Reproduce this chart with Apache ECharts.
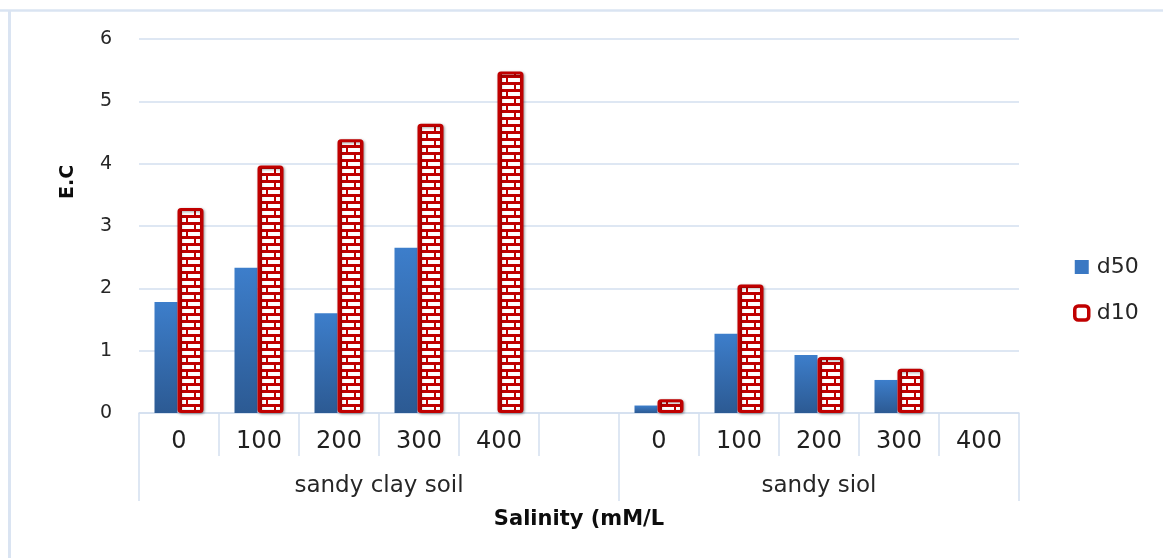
<!DOCTYPE html>
<html>
<head>
<meta charset="utf-8">
<script src="https://cdn.jsdelivr.net/npm/echarts@6/dist/echarts.min.js"></script>
<style>
html,body{margin:0;padding:0;background:#fff;}
#chart{width:1163px;height:558px;}
</style>
</head>
<body>
<div id="chart"></div>
<script>
// ---- data ----
const categories = ['0', '100', '200', '300', '400', '', '0', '100', '200', '300', '400'];
const d50 = [1.78, 2.33, 1.60, 2.65, null, null, 0.12, 1.27, 0.93, 0.53, null];
const d10 = [3.29, 3.97, 4.39, 4.64, 5.48, null, 0.22, 2.06, 0.90, 0.71, null];
const groups = ['sandy clay soil', 'sandy siol'];
const groupSizes = [6, 5];
const seriesNames = ['d50', 'd10'];
const yTicks = [0, 1, 2, 3, 4, 5, 6];

// group boundaries / centres in category units
const groupEdges = [0];
groupSizes.forEach(n => groupEdges.push(groupEdges[groupEdges.length - 1] + n));
const groupCenters = groupSizes.map((n, i) => groupEdges[i] + n / 2);

// brick pattern tile
function brickTile() {
  const c = document.createElement('canvas');
  c.width = 80; c.height = 14;
  const g = c.getContext('2d');
  g.fillStyle = '#C00000';
  g.fillRect(0, 0, 80, 14);
  g.fillStyle = '#ffffff';
  g.fillRect(22, 1, 12, 4);
  g.fillRect(36, 1, 4, 4);
  g.fillRect(22, 8, 4, 4);
  g.fillRect(28, 8, 12, 4);
  return c;
}

const chart = echarts.init(document.getElementById('chart'), null, {renderer: 'canvas'});
const font = 'DejaVu Sans';
const lineCol = '#D3DFEF';

const option = {
  animation: false,
  backgroundColor: '#ffffff',
  textStyle: {fontFamily: font},
  grid: {left: 139, right: 144, top: 39, bottom: 145, containLabel: false},
  legend: {
    orient: 'vertical',
    left: 1073,
    top: 256,
    padding: 0,
    itemWidth: 14,
    itemHeight: 14,
    itemGap: 24,
    textStyle: {fontFamily: font, fontSize: 22, color: '#262626', padding: [0, 0, 0, 3]},
    data: [
      {name: seriesNames[0], icon: 'rect', itemStyle: {color: '#3A78C3', borderWidth: 0}},
      {name: seriesNames[1], icon: 'roundRect', itemStyle: {color: '#ffffff', borderColor: '#C00000', borderWidth: 3.5}}
    ]
  },
  xAxis: [
    {
      type: 'category',
      data: categories,
      position: 'bottom',
      axisLine: {show: true, lineStyle: {color: lineCol, width: 1.5}},
      axisTick: {show: true, length: 43, lineStyle: {color: lineCol, width: 1.5}, interval: 0},
      axisLabel: {interval: 0, margin: 17, fontFamily: font, fontSize: 24, color: '#1f1f1f'},
      splitLine: {show: false}
    },
    {
      type: 'value',
      min: 0,
      max: categories.length,
      position: 'bottom',
      offset: 43,
      axisLine: {show: false},
      splitLine: {show: false},
      axisTick: {show: true, length: 45, customValues: groupEdges, lineStyle: {color: lineCol, width: 1.5}},
      axisLabel: {
        margin: 19,
        customValues: groupCenters,
        fontFamily: font, fontSize: 23, color: '#262626',
        formatter: function (v) {
          const i = groupCenters.indexOf(v);
          return i >= 0 ? groups[i] : '';
        }
      },
      name: 'Salinity (mM/L',
      nameLocation: 'middle',
      nameGap: 53,
      nameTextStyle: {fontFamily: font, fontSize: 21, fontWeight: 'bold', color: '#0d0d0d'}
    }
  ],
  yAxis: {
    type: 'value',
    min: yTicks[0],
    max: yTicks[yTicks.length - 1],
    interval: 1,
    axisLine: {show: false},
    axisTick: {show: false},
    axisLabel: {margin: 27, fontFamily: font, fontSize: 19, color: '#262626'},
    splitLine: {show: true, lineStyle: {color: lineCol, width: 1.5}}
  },
  graphic: [
    {type: 'line', shape: {x1: 0, y1: 10.5, x2: 1163, y2: 10.5}, style: {stroke: '#DAE4F2', lineWidth: 2.5}, silent: true},
    {type: 'line', shape: {x1: 9.5, y1: 10, x2: 9.5, y2: 558}, style: {stroke: '#DAE4F2', lineWidth: 3}, silent: true},
    {
      type: 'text', x: 68, y: 182, rotation: Math.PI / 2,
      style: {text: 'E.C', font: 'bold 19px "DejaVu Sans"', fill: '#0d0d0d', align: 'center', verticalAlign: 'middle'},
      silent: true
    }
  ],
  series: [
    {
      name: seriesNames[0],
      type: 'bar',
      data: d50,
      barWidth: 23,
      barGap: '0%',
      itemStyle: {
        color: new echarts.graphic.LinearGradient(0, 0, 0, 1, [
          {offset: 0, color: '#3D7ECB'},
          {offset: 1, color: '#2C5A93'}
        ])
      }
    },
    {
      name: seriesNames[1],
      type: 'bar',
      data: d10,
      barWidth: 26,
      barGap: '0%',
      itemStyle: {
        color: {image: brickTile(), repeat: 'repeat'},
        borderColor: '#C00000',
        borderWidth: 3,
        borderRadius: 2,
        shadowBlur: 3,
        shadowColor: 'rgba(0,0,0,0.35)',
        shadowOffsetX: 1,
        shadowOffsetY: 1
      }
    }
  ]
};
chart.setOption(option);
</script>
</body>
</html>
